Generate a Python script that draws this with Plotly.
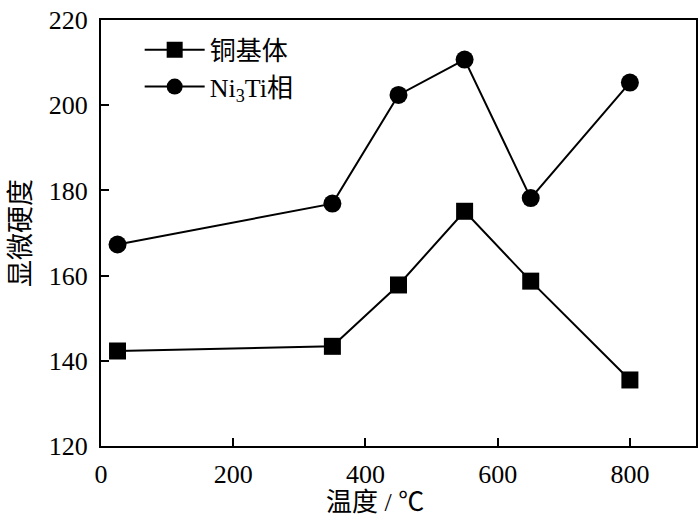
import plotly.graph_objects as go

# 温度 (℃)
temp = [25, 350, 450, 550, 650, 800]
# 显微硬度
cu_matrix = [142.3, 143.4, 157.8, 175.1, 158.7, 135.5]
ni3ti = [167.3, 176.9, 202.4, 210.7, 178.2, 205.3]

name_cu = "铜基体"
name_ni = "Ni<sub>3</sub>Ti相"
x_title = "温度 / ℃"
y_title = "显微硬度"

font_main = "'Times New Roman', 'Liberation Serif', 'Noto Sans CJK SC', serif"

fig = go.Figure()
fig.add_trace(go.Scatter(x=temp, y=cu_matrix, name=name_cu, mode="lines+markers",
                         line=dict(color="black", width=2),
                         marker=dict(symbol="square", size=17, color="black")))
fig.add_trace(go.Scatter(x=temp, y=ni3ti, name=name_ni, mode="lines+markers",
                         line=dict(color="black", width=2),
                         marker=dict(symbol="circle", size=18, color="black")))

fig.update_layout(
    width=700, height=522,
    margin=dict(l=101, r=2, t=20, b=76),
    plot_bgcolor="white", paper_bgcolor="white",
    font=dict(family=font_main, size=26, color="black"),
    showlegend=True,
    legend=dict(x=0.065, y=0.985, xanchor="left", yanchor="top",
                bgcolor="rgba(0,0,0,0)", font=dict(size=26),
                itemwidth=60, tracegroupgap=0),
    xaxis=dict(range=[0, 900], tickvals=[0, 200, 400, 600, 800],
               ticks="inside", ticklen=8, tickwidth=1.5, tickcolor="black",
               ticklabelstandoff=4,
               showline=True, linecolor="black", linewidth=2, mirror=True,
               showgrid=False, zeroline=False),
    yaxis=dict(range=[120, 220], tickvals=[120, 140, 160, 180, 200, 220],
               ticks="inside", ticklen=8, tickwidth=1.5, tickcolor="black",
               ticklabelstandoff=6,
               showline=True, linecolor="black", linewidth=2, mirror=True,
               showgrid=False, zeroline=False,
               title=dict(text=y_title, font=dict(size=27), standoff=10)),
)

# x轴标题原图略偏左, 用注释放置
fig.add_annotation(text=x_title, xref="paper", yref="paper", x=0.46, y=0,
                   xanchor="center", yanchor="top", yshift=-40,
                   showarrow=False, font=dict(size=26))

# 页面 body 默认有 8px 边距, 去掉
fig.write_html("out.html", config={"displayModeBar": False},
               post_script="document.body.style.margin='0';")
